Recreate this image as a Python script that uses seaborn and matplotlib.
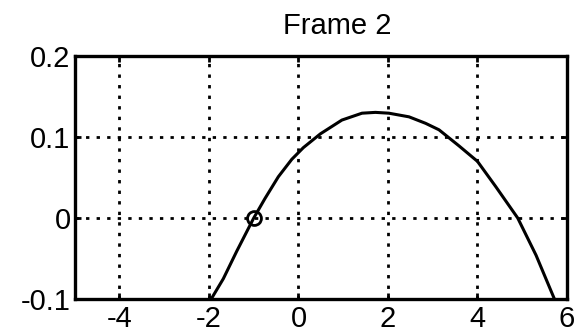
import matplotlib
matplotlib.use("Agg")
import matplotlib.pyplot as plt
import seaborn as sns
import pandas as pd

# Curve samples for frame 2
x_vals = [-1.95, -1.68, -1.38, -1.0, -0.75, -0.45, -0.15, 0.11, 0.49, 0.97,
          1.42, 1.72, 2.02, 2.47, 2.84, 3.14, 3.59, 4.0, 4.41, 4.9, 5.31, 5.72]
y_vals = [-0.100, -0.075, -0.041, 0.000, 0.024, 0.051, 0.0725, 0.087, 0.104,
          0.121, 0.1295, 0.1305, 0.1295, 0.125, 0.117, 0.109, 0.089, 0.070,
          0.0387, 0.000, -0.046, -0.100]

# Tracked point
point_x = [-1.0]
point_y = [0.0]

x_ticks = [-4, -2, 0, 2, 4, 6]
y_ticks = [-0.1, 0, 0.1, 0.2]
y_tick_labels = ["-0.1", "0", "0.1", "0.2"]
title = "Frame 2"

sns.set_theme(style="ticks")
plt.rcParams["font.family"] = ["Liberation Sans", "DejaVu Sans"]

fig = plt.figure(figsize=(5.75, 3.32), dpi=100)
ax = fig.add_axes([0.130, 0.0994, 0.856, 0.7316])

df = pd.DataFrame({"x": x_vals, "y": y_vals})
sns.lineplot(data=df, x="x", y="y", sort=False, color="black", linewidth=2.2,
             ax=ax, zorder=3)
ax.plot(point_x, point_y, marker="o", markersize=10, markerfacecolor="none",
        markeredgecolor="black", markeredgewidth=2, linestyle="none", zorder=4)

ax.set_xlim(-5, 6)
ax.set_ylim(-0.1, 0.2)
ax.set_xticks(x_ticks)
ax.set_xticklabels([str(t) for t in x_ticks])
ax.set_yticks(y_ticks)
ax.set_yticklabels(y_tick_labels)
ax.set_xlabel("")
ax.set_ylabel("")

ax.grid(True, color="black", linestyle=(0, (1.2, 2.6)), linewidth=2.0)
for side in ["left", "right", "top", "bottom"]:
    ax.spines[side].set_visible(True)
    ax.spines[side].set_linewidth(2.4)
    ax.spines[side].set_color("black")

ax.tick_params(axis="both", which="both", direction="in", length=4, width=2,
               color="black", labelsize=21, labelcolor="black",
               top=True, right=True)
ax.tick_params(axis="y", pad=3)
ax.tick_params(axis="x", pad=4)

ax.set_title(title, fontsize=21, color="black", pad=16, x=0.533)

fig.savefig("out.png", dpi=100)
